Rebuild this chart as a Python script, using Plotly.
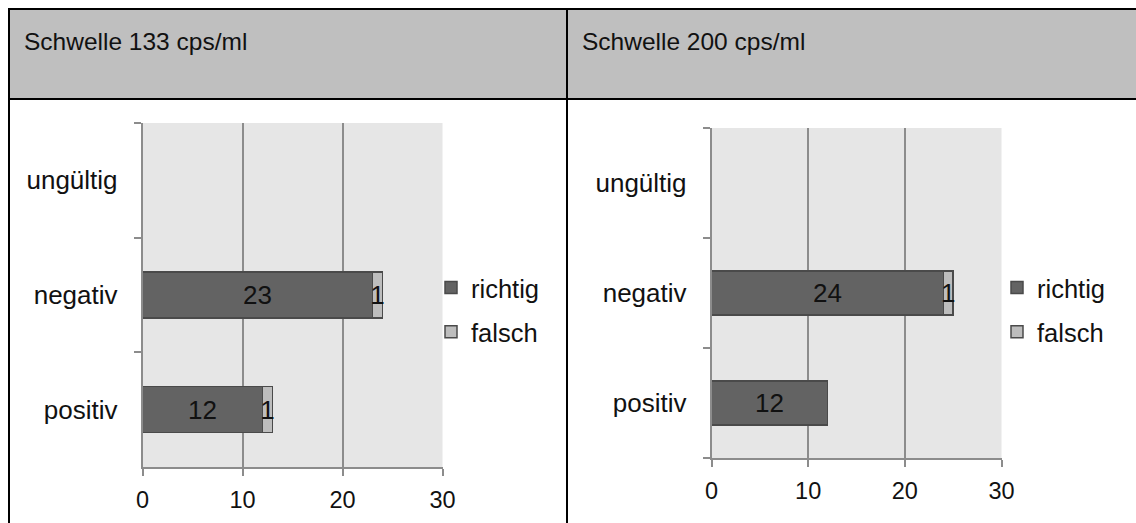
import plotly.graph_objects as go

# Categories (bottom to top on the y axis)
categories = ["positiv", "negativ", "ungültig"]

# Threshold 133 cps/ml
richtig_133 = [12, 23, None]
falsch_133 = [1, 1, None]

# Threshold 200 cps/ml
richtig_200 = [12, 24, None]
falsch_200 = [None, 1, None]

panel_titles = ["Schwelle 133 cps/ml", "Schwelle 200 cps/ml"]
x_ticks = [0, 10, 20, 30]

W, H = 1136, 523
FONT = "Liberation Sans, Arial, sans-serif"
DARK = "#636363"
LIGHT = "#BDBDBD"
GRID = "#8C8C8C"


def px_x(v):
    return v / W


def px_y(v):
    return 1 - v / H


fig = go.Figure()

panels = [
    dict(rich=richtig_133, fal=falsch_133, xa="x", ya="y", legend="legend"),
    dict(rich=richtig_200, fal=falsch_200, xa="x2", ya="y2", legend="legend2"),
]

for p in panels:
    for name, vals, color, group in [
        ("richtig", p["rich"], DARK, "r"),
        ("falsch", p["fal"], LIGHT, "f"),
    ]:
        fig.add_trace(go.Bar(
            y=categories, x=vals, name=name, orientation="h",
            xaxis=p["xa"], yaxis=p["ya"], legend=p["legend"], legendgroup=group,
            marker=dict(color=color, line=dict(color="#4A4A4A", width=1.5)),
            width=0.4,
            text=[("" if v is None else str(v)) for v in vals],
            textposition="inside", insidetextanchor="middle",
            textangle=0, constraintext="none",
            textfont=dict(family=FONT, size=26, color="#111111"),
            hoverinfo="skip",
        ))

axis_common = dict(
    showline=True, linecolor=GRID, linewidth=1.5,
    ticks="outside", ticklen=7, tickwidth=1.5, tickcolor=GRID,
    automargin=False,
)

xaxis_common = dict(
    axis_common, range=[0, 30], tickvals=x_ticks, showgrid=True,
    gridcolor=GRID, gridwidth=1.5, zeroline=False,
    tickfont=dict(family=FONT, size=23.5, color="#111111"),
    ticklabelstandoff=4, fixedrange=True,
)

yaxis_common = dict(
    axis_common, type="category", categoryorder="array", categoryarray=categories,
    range=[-0.5, 2.5], tickson="boundaries", showgrid=False, zeroline=False,
    tickfont=dict(family=FONT, size=26, color="#111111"),
    ticklabelstandoff=18, fixedrange=True,
)

legend_common = dict(
    font=dict(family=FONT, size=25.5, color="#111111"),
    bgcolor="rgba(0,0,0,0)", borderwidth=0, tracegroupgap=8,
    xanchor="left", yanchor="middle", traceorder="grouped",
)

fig.update_layout(
    width=W, height=H, autosize=False,
    margin=dict(l=0, r=0, t=0, b=0, pad=0, autoexpand=False),
    paper_bgcolor="white",
    plot_bgcolor="#E6E6E6",
    barmode="stack",
    showlegend=True,
    xaxis=dict(xaxis_common, domain=[px_x(142.5), px_x(442.5)], anchor="y"),
    yaxis=dict(yaxis_common, domain=[px_y(467), px_y(123)], anchor="x"),
    xaxis2=dict(xaxis_common, domain=[px_x(711.5), px_x(1001.5)], anchor="y2"),
    yaxis2=dict(yaxis_common, domain=[px_y(458), px_y(128)], anchor="x2"),
    legend=dict(legend_common, x=px_x(431), y=px_y(310)),
    legend2=dict(legend_common, x=px_x(997), y=px_y(310)),
)

# Table frame: grey header row with borders and a column divider
shapes = [
    dict(type="rect", xref="paper", yref="paper",
         x0=px_x(9), x1=1.0, y0=px_y(99), y1=px_y(9),
         fillcolor="#BFBFBF", line=dict(width=0), layer="below"),
    dict(type="line", xref="paper", yref="paper",
         x0=px_x(8), x1=1.0, y0=px_y(9), y1=px_y(9),
         line=dict(color="black", width=2)),
    dict(type="line", xref="paper", yref="paper",
         x0=px_x(8), x1=1.0, y0=px_y(99), y1=px_y(99),
         line=dict(color="black", width=2)),
    dict(type="line", xref="paper", yref="paper",
         x0=px_x(9), x1=px_x(9), y0=0, y1=px_y(8),
         line=dict(color="black", width=2)),
    dict(type="line", xref="paper", yref="paper",
         x0=px_x(567), x1=px_x(567), y0=0, y1=px_y(8),
         line=dict(color="black", width=2)),
]
fig.update_layout(shapes=shapes)

for title, x0 in zip(panel_titles, [22, 580]):
    fig.add_annotation(
        text=title, xref="paper", yref="paper",
        x=px_x(x0), y=px_y(42), xanchor="left", yanchor="middle",
        showarrow=False, font=dict(family=FONT, size=24.5, color="#111111"),
    )

fig.write_html("out.html", config={"responsive": False})
